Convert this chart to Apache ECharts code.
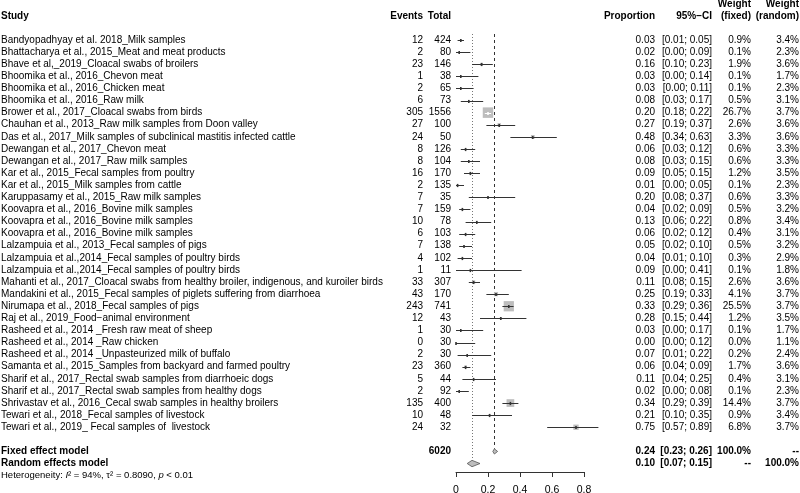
<!DOCTYPE html>
<html><head><meta charset="utf-8">
<script src="https://cdn.jsdelivr.net/npm/echarts@6/dist/echarts.min.js"></script>
<style>html,body{margin:0;padding:0;background:#fff}#c{width:800px;height:493px}</style>
</head><body><div id="c"></div>
<script>
const studies = [
"Bandyopadhyay et al. 2018_Milk samples",
"Bhattacharya et al., 2015_Meat and meat products",
"Bhave et al,_2019_Cloacal swabs of broilers",
"Bhoomika et al., 2016_Chevon meat",
"Bhoomika et al., 2016_Chicken meat",
"Bhoomika et al., 2016_Raw milk",
"Brower et al., 2017_Cloacal swabs from birds",
"Chauhan et al., 2013_Raw milk samples from Doon valley",
"Das et al., 2017_Milk samples of subclinical mastitis infected cattle",
"Dewangan et al., 2017_Chevon meat",
"Dewangan et al., 2017_Raw milk samples",
"Kar et al., 2015_Fecal samples from poultry",
"Kar et al., 2015_Milk samples from cattle",
"Karuppasamy et al., 2015_Raw milk samples",
"Koovapra et al., 2016_Bovine milk samples",
"Koovapra et al., 2016_Bovine milk samples",
"Koovapra et al., 2016_Bovine milk samples",
"Lalzampuia et al., 2013_Fecal samples of pigs",
"Lalzampuia et al.,2014_Fecal samples of poultry birds",
"Lalzampuia et al.,2014_Fecal samples of poultry birds",
"Mahanti et al., 2017_Cloacal swabs from healthy broiler, indigenous, and kuroiler birds",
"Mandakini et al., 2015_Fecal samples of piglets suffering from diarrhoea",
"Nirumapa et al., 2018_Fecal samples of pigs",
"Raj et al., 2019_Food\u2212animal environment",
"Rasheed et al., 2014 _Fresh raw meat of sheep",
"Rasheed et al., 2014 _Raw chicken",
"Rasheed et al., 2014 _Unpasteurized milk of buffalo",
"Samanta et al., 2015_Samples from backyard and farmed poultry",
"Sharif et al., 2017_Rectal swab samples from diarrhoeic dogs",
"Sharif et al., 2017_Rectal swab samples from healthy dogs",
"Shrivastav et al., 2016_Cecal swab samples in healthy broilers",
"Tewari et al., 2018_Fecal samples of livestock",
"Tewari et al., 2019_ Fecal samples of  livestock"
];
const events = [12,2,23,1,2,6,305,27,24,8,8,16,2,7,7,10,6,7,4,1,33,43,243,12,1,0,2,23,5,2,135,10,24];
const totals = [424,80,146,38,65,73,1556,100,50,126,104,170,135,35,159,78,103,138,102,11,307,170,741,43,30,30,30,360,44,92,400,48,32];
const proportions = [0.03,0.02,0.16,0.03,0.03,0.08,0.20,0.27,0.48,0.06,0.08,0.09,0.01,0.20,0.04,0.13,0.06,0.05,0.04,0.09,0.11,0.25,0.33,0.28,0.03,0.00,0.07,0.06,0.11,0.02,0.34,0.21,0.75];
const ciLower = [0.01,0.00,0.10,0.00,0.00,0.03,0.18,0.19,0.34,0.03,0.03,0.05,0.00,0.08,0.02,0.06,0.02,0.02,0.01,0.00,0.08,0.19,0.29,0.15,0.00,0.00,0.01,0.04,0.04,0.00,0.29,0.10,0.57];
const ciUpper = [0.05,0.09,0.23,0.14,0.11,0.17,0.22,0.37,0.63,0.12,0.15,0.15,0.05,0.37,0.09,0.22,0.12,0.10,0.10,0.41,0.15,0.33,0.36,0.44,0.17,0.12,0.22,0.09,0.25,0.08,0.39,0.35,0.89];
const weightFixed = [0.9,0.1,1.9,0.1,0.1,0.5,26.7,2.6,3.3,0.6,0.6,1.2,0.1,0.6,0.5,0.8,0.4,0.5,0.3,0.1,2.6,4.1,25.5,1.2,0.1,0.0,0.2,1.7,0.4,0.1,14.4,0.9,6.8];
const weightRandom = [3.4,2.3,3.6,1.7,2.3,3.1,3.7,3.6,3.6,3.3,3.3,3.5,2.3,3.3,3.2,3.4,3.1,3.2,2.9,1.8,3.6,3.7,3.7,3.5,1.7,1.1,2.4,3.6,3.1,2.3,3.7,3.4,3.7];

const modelNames = ["Fixed effect model", "Random effects model"];
const modelEstimate = [0.24, 0.10];
const modelLower = [0.23, 0.07];
const modelUpper = [0.26, 0.15];
const modelWeightFixed = ["100.0%", "--"];
const modelWeightRandom = ["--", "100.0%"];
const totalN = 6020;
const hetI2 = "94%";
const hetTau2 = "0.8090";
const hetP = "< 0.01";
const xTicks = [0, 0.2, 0.4, 0.6, 0.8];

const FONT = '"Liberation Sans", Arial, Helvetica, sans-serif';
const COL = {study:1, events:423, total:451, prop:655, ci:712, wf:751, wr:799};
const ROW_FIXED = 34, ROW_RANDOM = 35, ROW_HET = 36, ROW_HEAD = -2;
const BOX = 2.03;

function txt(x, y, s, align, bold, size, extra) {
  const st = {text:s, align:align, verticalAlign:'middle', textAlign:align, textVerticalAlign:'middle',
    font:(bold?'bold ':'') + (size||10) + 'px ' + FONT, fill:'#000'};
  if (extra) Object.assign(st, extra);
  return {type:'text', x:x, y:y, style:st};
}
const f2 = v => v.toFixed(2);
const ci = (a,b) => '[' + f2(a) + '; ' + f2(b) + ']';

const chart = echarts.init(document.getElementById('c'), null, {renderer:'canvas'});

const studyData = studies.map((s,i)=>[proportions[i], i, ciLower[i], ciUpper[i], weightFixed[i]]);
const modelData = modelNames.map((s,k)=>[modelEstimate[k], k===0?ROW_FIXED:ROW_RANDOM, modelLower[k], modelUpper[k]]);

chart.setOption({
  animation:false,
  grid:{left:456, right:216, top:34, bottom:21, containLabel:false, outerBoundsMode:'none'},
  xAxis:{type:'value', position:'bottom', min:xTicks[0], max:xTicks[xTicks.length-1], interval:0.2,
    axisLine:{show:true, onZero:false, lineStyle:{color:'#333', width:1}},
    axisTick:{show:true, length:5, lineStyle:{color:'#333'}},
    axisLabel:{margin:13, fontSize:10.5, color:'#000', fontFamily:FONT, formatter: v => String(+v.toFixed(1))},
    splitLine:{show:false}},
  yAxis:{type:'value', inverse:true, min:-0.5, max:35.7, show:false},
  series:[
    { // header
      type:'custom', clip:false, data:[[0, ROW_HEAD]],
      renderItem:(p, api)=>{
        const y = api.coord([0, ROW_HEAD])[1];
        const y0 = api.coord([0, ROW_HEAD-0.95])[1];
        return {type:'group', children:[
          txt(COL.study, y, 'Study', 'left', true),
          txt(COL.events, y, 'Events', 'right', true),
          txt(COL.total, y, 'Total', 'right', true),
          txt(COL.prop, y, 'Proportion', 'right', true),
          txt(COL.ci, y, '95%\u2212CI', 'right', true),
          txt(COL.wf, y0, 'Weight', 'right', true),
          txt(COL.wf, y, '(fixed)', 'right', true),
          txt(COL.wr, y0, 'Weight', 'right', true),
          txt(COL.wr, y, '(random)', 'right', true)
        ]};
      }
    },
    { // models: reference lines, diamonds, texts
      type:'custom', clip:false, data:modelData,
      encode:{x:[0,2,3], y:1},
      renderItem:(p, api)=>{
        const k = p.dataIndex;
        const row = api.value(1);
        const c = api.coord([api.value(0), row]);
        const lo = api.coord([api.value(2), row]);
        const hi = api.coord([api.value(3), row]);
        const top = api.coord([api.value(0), -0.5]);
        const h = k===0 ? 2.6 : 3.2;
        const ch = [];
        ch.push({type:'line', shape:{x1:Math.round(c[0])+0.5, y1:top[1], x2:Math.round(c[0])+0.5, y2:c[1]-h},
          style:{stroke:k===0?'#333':'#777', lineWidth:1, lineDash:k===0?[3,3]:[1,2]}});
        ch.push({type:'polygon', shape:{points:[[lo[0],c[1]],[c[0],c[1]-h],[hi[0],c[1]],[c[0],c[1]+h]]},
          style:{fill:'#bdbdbd', stroke:'#555', lineWidth:0.8}});
        ch.push(txt(COL.study, c[1], modelNames[k], 'left', true));
        if (k===0) ch.push(txt(COL.total, c[1], String(totalN), 'right', true));
        ch.push(txt(COL.prop, c[1], f2(modelEstimate[k]), 'right', true));
        ch.push(txt(COL.ci, c[1], ci(modelLower[k], modelUpper[k]), 'right', true));
        ch.push(txt(COL.wf, c[1], modelWeightFixed[k], 'right', true));
        ch.push(txt(COL.wr, c[1], modelWeightRandom[k], 'right', true));
        return {type:'group', children:ch};
      }
    },
    { // heterogeneity
      type:'custom', clip:false, data:[[0, ROW_HET]],
      renderItem:(p, api)=>{
        const y = api.coord([0, ROW_HET])[1];
        return txt(COL.study, y,
          'Heterogeneity: {it|I}\u00b2 = ' + hetI2 + ', \u03c4\u00b2 = ' + hetTau2 + ', {it|p} ' + hetP,
          'left', false, 9.5,
          {rich:{it:{font:'italic 9.5px ' + FONT, fill:'#000'}}});
      }
    },
    { // studies
      type:'custom', clip:false, data:studyData,
      encode:{x:[0,2,3], y:1},
      renderItem:(p, api)=>{
        const i = p.dataIndex;
        const row = api.value(1);
        const c = api.coord([api.value(0), row]);
        const lo = api.coord([api.value(2), row]);
        const hi = api.coord([api.value(3), row]);
        const side = BOX*Math.sqrt(api.value(4));
        const inside = (hi[0]-lo[0]) < side;
        const ly = Math.round(c[1]) + 0.5;
        const ch = [];
        if (side > 0.5) ch.push({type:'rect', shape:{x:c[0]-side/2, y:c[1]-side/2, width:side, height:side}, style:{fill:'#bdbdbd'}});
        ch.push({type:'line', shape:{x1:lo[0], y1:ly, x2:hi[0], y2:ly}, style:{stroke:inside?'#fff':'#333', lineWidth:1}});
        ch.push({type:'rect', shape:{x:c[0]-0.8, y:ly-1.6, width:1.6, height:3.2}, style:{fill:inside?'#fff':'#333'}});
        ch.push(txt(COL.study, c[1], studies[i], 'left', false));
        ch.push(txt(COL.events, c[1], String(events[i]), 'right', false));
        ch.push(txt(COL.total, c[1], String(totals[i]), 'right', false));
        ch.push(txt(COL.prop, c[1], f2(proportions[i]), 'right', false));
        ch.push(txt(COL.ci, c[1], ci(ciLower[i], ciUpper[i]), 'right', false));
        ch.push(txt(COL.wf, c[1], weightFixed[i].toFixed(1) + '%', 'right', false));
        ch.push(txt(COL.wr, c[1], weightRandom[i].toFixed(1) + '%', 'right', false));
        return {type:'group', children:ch};
      }
    }
  ]
});
</script></body></html>
